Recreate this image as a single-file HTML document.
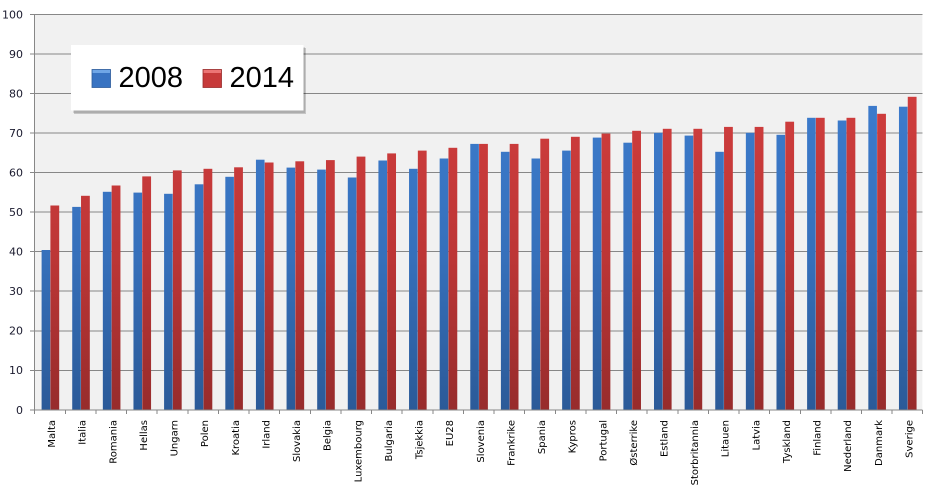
<!DOCTYPE html>
<html>
<head>
<meta charset="utf-8">
<style>
  html, body { margin: 0; padding: 0; background: #ffffff; }
  body { width: 939px; height: 502px; overflow: hidden; position: relative; }
  svg { position: absolute; left: 0; top: 0; }
  .yl { font-family: "DejaVu Sans", "Liberation Sans", sans-serif; font-size: 11px; fill: #1a1a2e; }
  .xl { font-family: "DejaVu Sans", "Liberation Sans", sans-serif; font-size: 10px; fill: #000; }
  .lg { font-family: "Liberation Sans", sans-serif; font-size: 29px; fill: #000; }
</style>
</head>
<body>
<svg width="939" height="502" viewBox="0 0 939 502" xmlns="http://www.w3.org/2000/svg">
  <defs>
    <linearGradient id="gb" gradientUnits="userSpaceOnUse" x1="0" y1="100" x2="0" y2="410">
      <stop offset="0" stop-color="#3c7bcc"/>
      <stop offset="0.5" stop-color="#3670bb"/>
      <stop offset="1" stop-color="#2b5a98"/>
    </linearGradient>
    <linearGradient id="gr" gradientUnits="userSpaceOnUse" x1="0" y1="100" x2="0" y2="410">
      <stop offset="0" stop-color="#cf3d3d"/>
      <stop offset="0.5" stop-color="#bd3636"/>
      <stop offset="1" stop-color="#972c2c"/>
    </linearGradient>
  </defs>

  <rect x="34" y="14" width="888.3" height="396" fill="#f1f1f1"/>

  <g stroke="#878787" stroke-width="1" shape-rendering="crispEdges">
    <line x1="30" y1="14.5" x2="922.3" y2="14.5"/>
    <line x1="30" y1="53.9" x2="922.3" y2="53.9"/>
    <line x1="30" y1="93.3" x2="922.3" y2="93.3"/>
    <line x1="30" y1="132.8" x2="922.3" y2="132.8"/>
    <line x1="30" y1="172.4" x2="922.3" y2="172.4"/>
    <line x1="30" y1="212" x2="922.3" y2="212"/>
    <line x1="30" y1="251.6" x2="922.3" y2="251.6"/>
    <line x1="30" y1="291.2" x2="922.3" y2="291.2"/>
    <line x1="30" y1="330.8" x2="922.3" y2="330.8"/>
    <line x1="30" y1="370.4" x2="922.3" y2="370.4"/>
  </g>

  <g class="yl" text-anchor="end">
    <text x="23" y="18.5">100</text>
    <text x="23" y="58">90</text>
    <text x="23" y="97.5">80</text>
    <text x="23" y="137">70</text>
    <text x="23" y="176.5">60</text>
    <text x="23" y="216">50</text>
    <text x="23" y="255.5">40</text>
    <text x="23" y="295">30</text>
    <text x="23" y="334.5">20</text>
    <text x="23" y="374">10</text>
    <text x="23" y="414">0</text>
  </g>

  <g>
    <g transform="translate(34.30,0)"><rect x="7.3" y="250.0" width="8.6" height="160.0" fill="url(#gb)"/><rect x="16.1" y="205.5" width="8.8" height="204.5" fill="url(#gr)"/></g>
    <g transform="translate(64.92,0)"><rect x="7.3" y="206.9" width="8.6" height="203.1" fill="url(#gb)"/><rect x="16.1" y="195.8" width="8.8" height="214.2" fill="url(#gr)"/></g>
    <g transform="translate(95.54,0)"><rect x="7.3" y="191.8" width="8.6" height="218.2" fill="url(#gb)"/><rect x="16.1" y="185.5" width="8.8" height="224.5" fill="url(#gr)"/></g>
    <g transform="translate(126.16,0)"><rect x="7.3" y="192.6" width="8.6" height="217.4" fill="url(#gb)"/><rect x="16.1" y="176.4" width="8.8" height="233.6" fill="url(#gr)"/></g>
    <g transform="translate(156.78,0)"><rect x="7.3" y="193.8" width="8.6" height="216.2" fill="url(#gb)"/><rect x="16.1" y="170.4" width="8.8" height="239.6" fill="url(#gr)"/></g>
    <g transform="translate(187.40,0)"><rect x="7.3" y="184.3" width="8.6" height="225.7" fill="url(#gb)"/><rect x="16.1" y="168.8" width="8.8" height="241.2" fill="url(#gr)"/></g>
    <g transform="translate(218.02,0)"><rect x="7.3" y="176.8" width="8.6" height="233.2" fill="url(#gb)"/><rect x="16.1" y="167.3" width="8.8" height="242.7" fill="url(#gr)"/></g>
    <g transform="translate(248.64,0)"><rect x="7.3" y="159.7" width="8.6" height="250.3" fill="url(#gb)"/><rect x="16.1" y="162.5" width="8.8" height="247.5" fill="url(#gr)"/></g>
    <g transform="translate(279.26,0)"><rect x="7.3" y="167.6" width="8.6" height="242.4" fill="url(#gb)"/><rect x="16.1" y="161.3" width="8.8" height="248.7" fill="url(#gr)"/></g>
    <g transform="translate(309.88,0)"><rect x="7.3" y="169.6" width="8.6" height="240.4" fill="url(#gb)"/><rect x="16.1" y="160.1" width="8.8" height="249.9" fill="url(#gr)"/></g>
    <g transform="translate(340.50,0)"><rect x="7.3" y="177.5" width="8.6" height="232.5" fill="url(#gb)"/><rect x="16.1" y="156.6" width="8.8" height="253.4" fill="url(#gr)"/></g>
    <g transform="translate(371.12,0)"><rect x="7.3" y="160.5" width="8.6" height="249.5" fill="url(#gb)"/><rect x="16.1" y="153.4" width="8.8" height="256.6" fill="url(#gr)"/></g>
    <g transform="translate(401.74,0)"><rect x="7.3" y="168.8" width="8.6" height="241.2" fill="url(#gb)"/><rect x="16.1" y="150.6" width="8.8" height="259.4" fill="url(#gr)"/></g>
    <g transform="translate(432.36,0)"><rect x="7.3" y="158.5" width="8.6" height="251.5" fill="url(#gb)"/><rect x="16.1" y="147.8" width="8.8" height="262.2" fill="url(#gr)"/></g>
    <g transform="translate(462.98,0)"><rect x="7.3" y="143.9" width="8.6" height="266.1" fill="url(#gb)"/><rect x="16.1" y="143.9" width="8.8" height="266.1" fill="url(#gr)"/></g>
    <g transform="translate(493.60,0)"><rect x="7.3" y="151.8" width="8.6" height="258.2" fill="url(#gb)"/><rect x="16.1" y="143.9" width="8.8" height="266.1" fill="url(#gr)"/></g>
    <g transform="translate(524.22,0)"><rect x="7.3" y="158.5" width="8.6" height="251.5" fill="url(#gb)"/><rect x="16.1" y="138.7" width="8.8" height="271.3" fill="url(#gr)"/></g>
    <g transform="translate(554.84,0)"><rect x="7.3" y="150.6" width="8.6" height="259.4" fill="url(#gb)"/><rect x="16.1" y="136.8" width="8.8" height="273.2" fill="url(#gr)"/></g>
    <g transform="translate(585.46,0)"><rect x="7.3" y="137.6" width="8.6" height="272.4" fill="url(#gb)"/><rect x="16.1" y="133.6" width="8.8" height="276.4" fill="url(#gr)"/></g>
    <g transform="translate(616.08,0)"><rect x="7.3" y="142.7" width="8.6" height="267.3" fill="url(#gb)"/><rect x="16.1" y="130.8" width="8.8" height="279.2" fill="url(#gr)"/></g>
    <g transform="translate(646.70,0)"><rect x="7.3" y="132.8" width="8.6" height="277.2" fill="url(#gb)"/><rect x="16.1" y="128.8" width="8.8" height="281.2" fill="url(#gr)"/></g>
    <g transform="translate(677.32,0)"><rect x="7.3" y="135.6" width="8.6" height="274.4" fill="url(#gb)"/><rect x="16.1" y="128.8" width="8.8" height="281.2" fill="url(#gr)"/></g>
    <g transform="translate(707.94,0)"><rect x="7.3" y="151.8" width="8.6" height="258.2" fill="url(#gb)"/><rect x="16.1" y="126.9" width="8.8" height="283.1" fill="url(#gr)"/></g>
    <g transform="translate(738.56,0)"><rect x="7.3" y="132.8" width="8.6" height="277.2" fill="url(#gb)"/><rect x="16.1" y="126.9" width="8.8" height="283.1" fill="url(#gr)"/></g>
    <g transform="translate(769.18,0)"><rect x="7.3" y="134.8" width="8.6" height="275.2" fill="url(#gb)"/><rect x="16.1" y="121.7" width="8.8" height="288.3" fill="url(#gr)"/></g>
    <g transform="translate(799.80,0)"><rect x="7.3" y="117.8" width="8.6" height="292.2" fill="url(#gb)"/><rect x="16.1" y="117.8" width="8.8" height="292.2" fill="url(#gr)"/></g>
    <g transform="translate(830.42,0)"><rect x="7.3" y="120.5" width="8.6" height="289.5" fill="url(#gb)"/><rect x="16.1" y="117.8" width="8.8" height="292.2" fill="url(#gr)"/></g>
    <g transform="translate(861.04,0)"><rect x="7.3" y="105.9" width="8.6" height="304.1" fill="url(#gb)"/><rect x="16.1" y="113.8" width="8.8" height="296.2" fill="url(#gr)"/></g>
    <g transform="translate(891.66,0)"><rect x="7.3" y="106.7" width="8.6" height="303.3" fill="url(#gb)"/><rect x="16.1" y="96.8" width="8.8" height="313.2" fill="url(#gr)"/></g>
  </g>

  <g stroke="#878787" stroke-width="1" shape-rendering="crispEdges">
    <line x1="34.5" y1="14" x2="34.5" y2="414"/>
    <line x1="30" y1="410" x2="922.3" y2="410"/>
    <line x1="65.4" y1="410" x2="65.4" y2="414"/>
    <line x1="96" y1="410" x2="96" y2="414"/>
    <line x1="126.6" y1="410" x2="126.6" y2="414"/>
    <line x1="157.2" y1="410" x2="157.2" y2="414"/>
    <line x1="187.8" y1="410" x2="187.8" y2="414"/>
    <line x1="218.5" y1="410" x2="218.5" y2="414"/>
    <line x1="249.1" y1="410" x2="249.1" y2="414"/>
    <line x1="279.7" y1="410" x2="279.7" y2="414"/>
    <line x1="310.3" y1="410" x2="310.3" y2="414"/>
    <line x1="341" y1="410" x2="341" y2="414"/>
    <line x1="371.6" y1="410" x2="371.6" y2="414"/>
    <line x1="402.2" y1="410" x2="402.2" y2="414"/>
    <line x1="432.8" y1="410" x2="432.8" y2="414"/>
    <line x1="463.4" y1="410" x2="463.4" y2="414"/>
    <line x1="494" y1="410" x2="494" y2="414"/>
    <line x1="524.7" y1="410" x2="524.7" y2="414"/>
    <line x1="555.3" y1="410" x2="555.3" y2="414"/>
    <line x1="585.9" y1="410" x2="585.9" y2="414"/>
    <line x1="616.5" y1="410" x2="616.5" y2="414"/>
    <line x1="647.2" y1="410" x2="647.2" y2="414"/>
    <line x1="677.8" y1="410" x2="677.8" y2="414"/>
    <line x1="708.4" y1="410" x2="708.4" y2="414"/>
    <line x1="739" y1="410" x2="739" y2="414"/>
    <line x1="769.6" y1="410" x2="769.6" y2="414"/>
    <line x1="800.3" y1="410" x2="800.3" y2="414"/>
    <line x1="830.9" y1="410" x2="830.9" y2="414"/>
    <line x1="861.5" y1="410" x2="861.5" y2="414"/>
    <line x1="892.1" y1="410" x2="892.1" y2="414"/>
    <line x1="922.3" y1="410" x2="922.3" y2="414"/>
  </g>

  <g class="xl" text-anchor="end">
    <text transform="translate(55.1,420) rotate(-90)">Malta</text>
    <text transform="translate(85.7,420) rotate(-90)">Italia</text>
    <text transform="translate(116.3,420) rotate(-90)">Romania</text>
    <text transform="translate(146.9,420) rotate(-90)">Hellas</text>
    <text transform="translate(177.6,420) rotate(-90)">Ungarn</text>
    <text transform="translate(208.2,420) rotate(-90)">Polen</text>
    <text transform="translate(238.8,420) rotate(-90)">Kroatia</text>
    <text transform="translate(269.4,420) rotate(-90)">Irland</text>
    <text transform="translate(300.1,420) rotate(-90)">Slovakia</text>
    <text transform="translate(330.7,420) rotate(-90)">Belgia</text>
    <text transform="translate(361.3,420) rotate(-90)">Luxembourg</text>
    <text transform="translate(391.9,420) rotate(-90)">Bulgaria</text>
    <text transform="translate(422.5,420) rotate(-90)">Tsjekkia</text>
    <text transform="translate(453.2,420) rotate(-90)">EU28</text>
    <text transform="translate(483.8,420) rotate(-90)">Slovenia</text>
    <text transform="translate(514.4,420) rotate(-90)">Frankrike</text>
    <text transform="translate(545.0,420) rotate(-90)">Spania</text>
    <text transform="translate(575.6,420) rotate(-90)">Kypros</text>
    <text transform="translate(606.3,420) rotate(-90)">Portugal</text>
    <text transform="translate(636.9,420) rotate(-90)">Østerrike</text>
    <text transform="translate(667.5,420) rotate(-90)">Estland</text>
    <text transform="translate(698.1,420) rotate(-90)">Storbritannia</text>
    <text transform="translate(728.7,420) rotate(-90)">Litauen</text>
    <text transform="translate(759.4,420) rotate(-90)">Latvia</text>
    <text transform="translate(790.0,420) rotate(-90)">Tyskland</text>
    <text transform="translate(820.6,420) rotate(-90)">Finland</text>
    <text transform="translate(851.2,420) rotate(-90)">Nederland</text>
    <text transform="translate(881.8,420) rotate(-90)">Danmark</text>
    <text transform="translate(912.5,420) rotate(-90)">Sverige</text>
  </g>

  <rect x="74" y="48" width="232" height="66" fill="#000" opacity="0.18"/>
  <rect x="73" y="47" width="232" height="66" fill="#000" opacity="0.12"/>
  <rect x="71" y="45" width="232.5" height="65.5" fill="#ffffff"/>
  <rect x="92" y="69.5" width="18.5" height="18" fill="#3873c2" stroke="#2d5c9c" stroke-width="0.8"/>
  <rect x="92.5" y="70" width="17.5" height="3" fill="#6fa6e6"/>
  <text class="lg" x="118.5" y="87">2008</text>
  <rect x="203" y="69.5" width="18.5" height="18" fill="#c73a3a" stroke="#9a2c2c" stroke-width="0.8"/>
  <rect x="203.5" y="70" width="17.5" height="3" fill="#ec7575"/>
  <text class="lg" x="229.5" y="87">2014</text>
</svg>
</body>
</html>
